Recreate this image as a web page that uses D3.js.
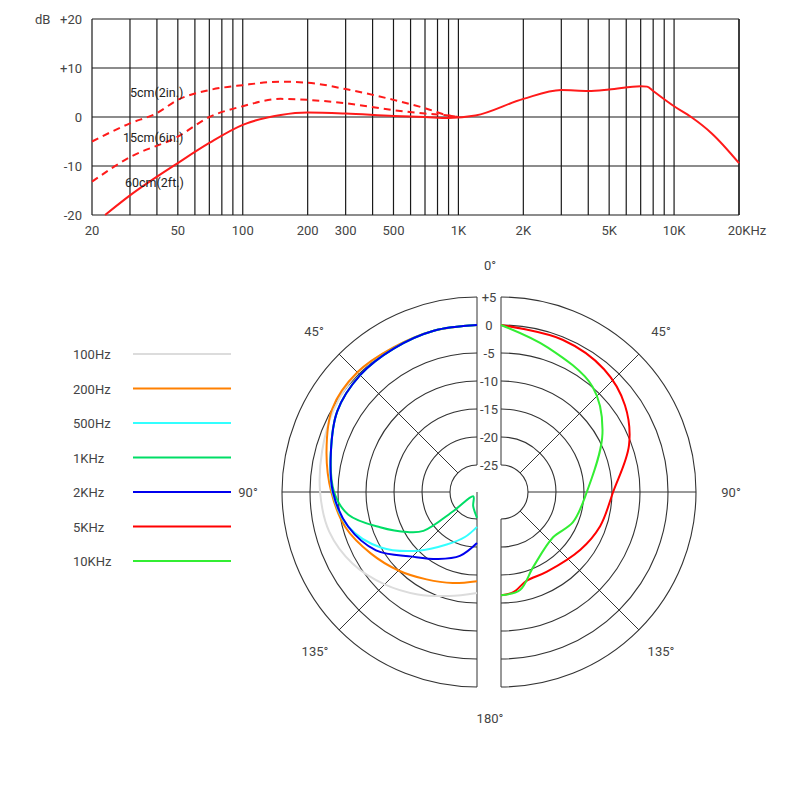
<!DOCTYPE html>
<html><head><meta charset="utf-8">
<script src="https://cdn.jsdelivr.net/npm/d3@7/dist/d3.min.js"></script>
<style>body{margin:0;background:#fff}text{font-family:Roboto,"Noto Sans",sans-serif;fill:#444}</style>
</head><body><svg id="c" width="790" height="797"></svg>
<script>
// ---------- frequency response data ----------
const freqTicks = [20,50,100,200,300,500,1000,2000,5000,10000,20000];
const freqTickLabels = ["20","50","100","200","300","500","1K","2K","5K","10K","20KHz"];
const dbTicks = [20,10,0,-10,-20];
const dbTickLabels = ["+20","+10","0","-10","-20"];
const resp60cmF = [23,30,50,70,100,150,200,300,500,700,900,1200,2000,3000,4000,5000,7000,7500,8000,10000,12000,15000,20000];
const resp60cmDb = [-20,-16,-9.4,-5.3,-1.6,0.4,0.9,0.7,0.2,0,-0.2,0.3,3.7,5.5,5.3,5.6,6.3,6.2,5.3,2.2,0,-3.4,-9.4];
const resp15cmF = [20,30,50,70,100,150,200,300,500,700,900,1000];
const resp15cmDb = [-13.2,-8.2,-4,0,2.2,3.7,3.5,2.8,1.4,0.7,0.3,0];
const resp5cmF = [20,30,40,50,70,100,150,200,300,500,700,900,1000];
const resp5cmDb = [-5,-1.3,0.8,3.5,5.5,6.5,7.2,7,5.7,3.5,1.8,0.3,0];
// ---------- polar data (angle deg, dB) ----------
const ringDb = [5,0,-5,-10,-15,-20,-25];
const ringLabels = ["+5","0","-5","-10","-15","-20","-25"];
const seriesNames = ["100Hz","200Hz","500Hz","1KHz","2KHz","5KHz","10KHz"];
const seriesColors = ["#dcdcdc","#ff8000","#33ffff","#00dd66","#0000ee","#ff0000","#33ee33"];
const seriesSide = ["L","L","L","L","L","R","R"];
const pol100Ang = [0,15,30,45,60,75,90,105,120,135,150,165,180];
const pol100Db  = [0,0,0,0.3,-0.3,-1.2,-1.8,-2.5,-4.2,-6.5,-8.7,-10.6,-11.8];
const pol200Ang = [0,15,30,45,60,75,90,105,120,135,150,165,180];
const pol200Db  = [0,0,0,0.4,0,-2,-3.8,-5.5,-7.9,-10,-11.8,-13,-13.9];
const pol500Ang = [0,15,30,45,60,75,90,105,120,135,150,165,180];
const pol500Db  = [0,0,-0.2,-0.3,-1,-2.8,-4,-6,-10,-15,-19,-21.5,-23.6];
const pol1kAng = [0,15,30,45,60,75,90,100,110,120,126,129,140,165,180];
const pol1kDb  = [0,0,-0.2,-0.3,-1,-2.8,-4.3,-6.5,-11.4,-15.5,-18,-24.5,-28.8,-27.2,-25.2];
const pol2kAng = [0,15,30,45,60,75,90,105,120,135,150,165,180];
const pol2kDb  = [0,0,-0.2,-0.3,-1,-2.8,-4.1,-6,-9,-13.5,-16,-18,-20.7];
const pol5kAng = [0,22,40,55,70,90,109,126,150,164,173,180];
const pol5kDb  = [0,-0.5,-1.2,-2.8,-5.5,-9.8,-11.1,-12.3,-13.4,-13.3,-11.8,-11.4];
const pol10kAng = [0,18,41,60,90,113,131,157,169,180];
const pol10kDb  = [0,-2.7,-4.9,-8.9,-14.5,-15.9,-17.5,-15.2,-12,-11.4];
const polAng = [pol100Ang,pol200Ang,pol500Ang,pol1kAng,pol2kAng,pol5kAng,pol10kAng];
const polDb = [pol100Db,pol200Db,pol500Db,pol1kDb,pol2kDb,pol5kDb,pol10kDb];

const svg = d3.select("#c");
// ---------- top chart ----------
const x = d3.scaleLog().domain([20,20000]).range([92,739]);
const y = d3.scaleLinear().domain([-20,20]).range([215,19]);
const g = svg.append("g");
const grid = [];
for (let d=10; d<=10000; d*=10) for (let m=1;m<10;m++){const f=d*m; if(f>=20&&f<=20000) grid.push(f);}
grid.push(20000);
g.selectAll(".vg").data(grid).join("line").attr("x1",d=>x(d)).attr("x2",d=>x(d)).attr("y1",19).attr("y2",215).attr("stroke","#1a1a1a").attr("stroke-width",1.2);
g.selectAll(".hg").data(dbTicks).join("line").attr("x1",92).attr("x2",739).attr("y1",d=>y(d)).attr("y2",d=>y(d)).attr("stroke","#1a1a1a").attr("stroke-width",1.2);
g.selectAll(".yl").data(dbTicks).join("text").attr("x",82).attr("y",d=>y(d)+5).attr("text-anchor","end").attr("font-size",13).text((d,i)=>dbTickLabels[i]);
g.append("text").attr("x",35).attr("y",24).attr("font-size",13).text("dB");
g.selectAll(".xl").data(freqTicks).join("text").attr("x",d=>x(d)).attr("y",235).attr("text-anchor","middle").attr("font-size",13)
 .attr("dx",(d,i)=>i==freqTicks.length-1?8:0).text((d,i)=>freqTickLabels[i]);
const line = d3.line().x(d=>x(d[0])).y(d=>y(d[1])).curve(d3.curveMonotoneX);
const z = (a,b)=>a.map((v,i)=>[v,b[i]]);
g.append("path").attr("d",line(z(resp60cmF,resp60cmDb))).attr("fill","none").attr("stroke","#ff1a1a").attr("stroke-width",2);
g.append("path").attr("d",line(z(resp15cmF,resp15cmDb))).attr("fill","none").attr("stroke","#ff1a1a").attr("stroke-width",2).attr("stroke-dasharray","7,5");
g.append("path").attr("d",line(z(resp5cmF,resp5cmDb))).attr("fill","none").attr("stroke","#ff1a1a").attr("stroke-width",2).attr("stroke-dasharray","7,5");
[["5cm(2in.)",130,97],["15cm(6in.)",123,142],["60cm(2ft.)",125,187]].forEach(t=>{
 g.append("text").attr("x",t[1]).attr("y",t[2]).attr("font-size",12.5).style("fill","#222").text(t[0]);});

// ---------- polar ----------
const cy = 492, cxL = 477, cxR = 501;
const r = d3.scaleLinear().domain([-25,5]).range([27,195]);
const rr = d=>Math.max(0,r(d));
const p = svg.append("g");
function half(cx, sign){
  const h = p.append("g").attr("transform",`translate(${cx},${cy})`);
  ringDb.forEach(d=>{
    const R=r(d);
    h.append("path").attr("d",`M0,${-R} A${R},${R} 0 0 ${sign<0?0:1} 0,${R}`).attr("fill","none").attr("stroke","#333").attr("stroke-width",1.1);
  });
  h.append("line").attr("x1",sign*r(-25)).attr("x2",sign*r(5)).attr("y1",0).attr("y2",0).attr("stroke","#333");
  [45,135].forEach(a=>{const t=a*Math.PI/180;
    h.append("line").attr("x1",sign*r(-25)*Math.sin(t)).attr("y1",-r(-25)*Math.cos(t)).attr("x2",sign*r(5)*Math.sin(t)).attr("y2",-r(5)*Math.cos(t)).attr("stroke","#333");});
  h.append("line").attr("x1",0).attr("x2",0).attr("y1",-r(5)).attr("y2",-r(-25)).attr("stroke","#333");
  h.append("line").attr("x1",0).attr("x2",0).attr("y1",sign<0?0:r(-25)).attr("y2",r(5)).attr("stroke","#333");
  return h;
}
const hL = half(cxL,-1), hR = half(cxR,1);
ringDb.forEach((d,i)=>{p.append("text").attr("x",489).attr("y",cy-r(d)+5).attr("text-anchor","middle").attr("font-size",13).text(ringLabels[i]);});
[["0°",490,270],["45°",314,336],["45°",661,336],["90°",248,497],["90°",731,497],["135°",315,656],["135°",661,656],["180°",490,723]]
 .forEach(t=>p.append("text").attr("x",t[1]).attr("y",t[2]).attr("text-anchor","middle").attr("font-size",13).text(t[0]));
seriesNames.forEach((n,i)=>{
  const s = seriesSide[i]=="L"?-1:1;
  const lr = d3.lineRadial().angle(d=>s*d[0]*Math.PI/180).radius(d=>rr(d[1])).curve(d3.curveCatmullRom.alpha(0.5));
  (s<0?hL:hR).append("path").attr("d",lr(z(polAng[i],polDb[i]))).attr("fill","none").attr("stroke",seriesColors[i]).attr("stroke-width",2);
  const ly = 354 + i*34.5;
  svg.append("text").attr("x",73).attr("y",ly+5).attr("font-size",13).text(n);
  svg.append("line").attr("x1",133).attr("x2",231).attr("y1",ly).attr("y2",ly).attr("stroke",seriesColors[i]).attr("stroke-width",2);
});
</script></body></html>
